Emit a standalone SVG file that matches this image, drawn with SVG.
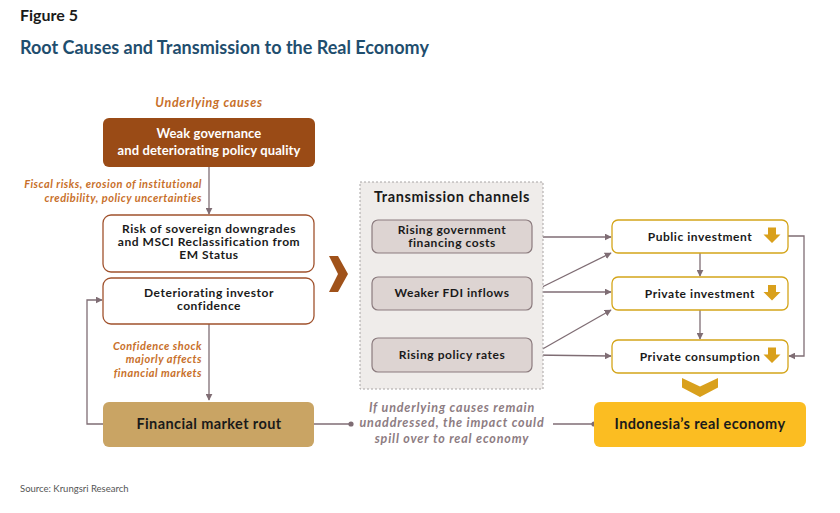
<svg xmlns="http://www.w3.org/2000/svg" width="840" height="513" viewBox="0 0 840 513">
<defs>
<style>
text{font-family:Lato,"Open Sans","Liberation Sans",sans-serif;font-weight:bold;}
.t{text-anchor:middle;font-size:12px;letter-spacing:0.55px;fill:#1a1a1a;}
.big{text-anchor:middle;font-size:14.5px;letter-spacing:0.4px;fill:#1a1a1a;}
.wt{text-anchor:middle;font-size:13px;letter-spacing:0.1px;fill:#ffffff;}
.note{font-style:italic;font-size:11px;letter-spacing:0.5px;fill:#c8702a;text-anchor:end;}
.gnote{font-style:italic;font-size:12.5px;letter-spacing:0.85px;fill:#8d7c82;text-anchor:middle;}
.cause{fill:#fff;stroke:#a0522d;stroke-width:1.3;}
.ch{fill:#ddd4d2;stroke:#8b7b7e;stroke-width:1.2;}
.out{fill:#fff;stroke:#d4a51a;stroke-width:1.3;}
.ln{fill:none;stroke:#7f6d74;stroke-width:1.3;}
</style>
<marker id="ah" viewBox="0 0 10 10" refX="9" refY="5" markerWidth="7" markerHeight="7" orient="auto" markerUnits="userSpaceOnUse">
<path d="M0,0 L10,5 L0,10 Z" fill="#7f6d74"/>
</marker>
<path id="dn" d="M-4,-8 H4 V-1 H8.5 L0,7.5 L-8.5,-1 H-4 Z" fill="#d9a01c"/>
</defs>
<rect width="840" height="513" fill="#fff"/>
<text x="20" y="21" style="font-size:16px;fill:#1a1a1a;">Figure 5</text>
<text x="20" y="54" style="font-size:18px;fill:#1f4e6e;">Root Causes and Transmission to the Real Economy</text>

<text x="209" y="107" style="font-style:italic;font-size:12.5px;letter-spacing:0.7px;fill:#c8702a;text-anchor:middle;">Underlying causes</text>

<g id="connectors">
<line class="ln" x1="209" y1="167" x2="209" y2="214" marker-end="url(#ah)"/>
<line class="ln" x1="209" y1="324" x2="209" y2="400" marker-end="url(#ah)"/>
<polyline class="ln" points="103,424 87,424 87,300 102,300" marker-end="url(#ah)"/>
<line class="ln" x1="314" y1="424" x2="351" y2="424"/>
<circle cx="351" cy="424" r="2.6" fill="#7f6d74"/>
<line class="ln" x1="553" y1="424" x2="594" y2="424"/>
<circle cx="594" cy="424" r="2.6" fill="#7f6d74"/>
<line class="ln" x1="532" y1="237" x2="611" y2="237" marker-end="url(#ah)"/>
<line class="ln" x1="532" y1="292" x2="611" y2="253" marker-end="url(#ah)"/>
<line class="ln" x1="532" y1="292" x2="611" y2="292" marker-end="url(#ah)"/>
<line class="ln" x1="532" y1="355" x2="611" y2="310" marker-end="url(#ah)"/>
<line class="ln" x1="532" y1="355" x2="611" y2="356" marker-end="url(#ah)"/>
<line class="ln" x1="700" y1="253" x2="700" y2="276" marker-end="url(#ah)"/>
<line class="ln" x1="700" y1="310" x2="700" y2="339" marker-end="url(#ah)"/>
<polyline class="ln" points="788,236 804,236 804,356 789,356" marker-end="url(#ah)"/>
</g>

<text class="note" x="202" y="188">Fiscal risks, erosion of institutional</text>
<text class="note" x="202" y="202">credibility, policy uncertainties</text>
<text class="note" x="202" y="350">Confidence shock</text>
<text class="note" x="202" y="363">majorly affects</text>
<text class="note" x="202" y="377">financial markets</text>

<g id="weak-governance">
<rect x="103" y="118" width="212" height="49" rx="6" fill="#9a4b16"/>
<text class="wt" x="209" y="138">Weak governance</text>
<text class="wt" x="209" y="155">and deteriorating policy quality</text>
</g>
<g id="sovereign-risk">
<rect class="cause" x="103" y="215" width="211" height="57" rx="8"/>
<text class="t" x="209" y="233">Risk of sovereign downgrades</text>
<text class="t" x="209" y="246">and MSCI Reclassification from</text>
<text class="t" x="209" y="259">EM Status</text>
</g>
<g id="investor-confidence">
<rect class="cause" x="103" y="278" width="211" height="46" rx="8"/>
<text class="t" x="209" y="297">Deteriorating investor</text>
<text class="t" x="209" y="310">confidence</text>
</g>
<g id="financial-market-rout">
<rect x="103" y="402" width="211" height="45" rx="6" fill="#c9a464"/>
<text class="big" x="209" y="429">Financial market rout</text>
</g>

<polygon points="329,256 338,256 348,274 338,292 329,292 338,274" fill="#a0521a"/>

<g id="transmission-channels">
<rect x="360" y="182" width="183" height="207" fill="#efecea" stroke="#a8a4a4" stroke-width="1" stroke-dasharray="2,2"/>
<text x="452" y="202" style="font-size:14.5px;letter-spacing:0.6px;fill:#1a1a1a;text-anchor:middle;">Transmission channels</text>
</g>
<g id="gov-financing">
<rect class="ch" x="372" y="220" width="160" height="33" rx="6"/>
<text class="t" x="452" y="234">Rising government</text>
<text class="t" x="452" y="247">financing costs</text>
</g>
<g id="fdi">
<rect class="ch" x="372" y="277" width="160" height="33" rx="6"/>
<text class="t" x="452" y="297">Weaker FDI inflows</text>
</g>
<g id="policy-rates">
<rect class="ch" x="372" y="338" width="160" height="34" rx="6"/>
<text class="t" x="452" y="359">Rising policy rates</text>
</g>

<g id="public-investment">
<rect class="out" x="612" y="220" width="176" height="33" rx="6"/>
<text class="t" x="700" y="241">Public investment</text>
<use href="#dn" x="772" y="235.5"/>
</g>
<g id="private-investment">
<rect class="out" x="612" y="277" width="176" height="33" rx="6"/>
<text class="t" x="700" y="298">Private investment</text>
<use href="#dn" x="772" y="293"/>
</g>
<g id="private-consumption">
<rect class="out" x="612" y="340" width="176" height="33" rx="6"/>
<text class="t" x="700" y="361">Private consumption</text>
<use href="#dn" x="772" y="355.5"/>
</g>

<polygon points="682,378 700,386.5 718,378 718,387.5 700,397 682,387.5" fill="#d9a01c"/>

<g id="real-economy">
<rect x="594" y="402" width="212" height="45" rx="6" fill="#fbbd22"/>
<text class="big" x="700" y="429">Indonesia’s real economy</text>
</g>

<text class="gnote" x="452" y="412">If underlying causes remain</text>
<text class="gnote" x="452" y="427">unaddressed, the impact could</text>
<text class="gnote" x="452" y="443">spill over to real economy</text>

<text x="20" y="492" style="font-weight:normal;font-size:9.5px;fill:#555;">Source: Krungsri Research</text>
</svg>
